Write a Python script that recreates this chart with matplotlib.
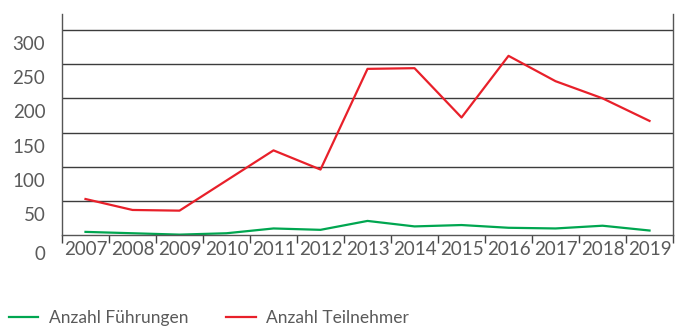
import matplotlib
matplotlib.use('Agg')
import matplotlib.pyplot as plt
import matplotlib.transforms as mtransforms

plt.rcParams['font.family'] = ['Lato', 'DejaVu Sans']

years = ['2007', '2008', '2009', '2010', '2011', '2012', '2013',
         '2014', '2015', '2016', '2017', '2018', '2019']
fuehrungen = [5, 3, 1, 3, 10, 8, 21, 13, 15, 11, 10, 14, 7]
teilnehmer = [53, 37, 36, 80, 124, 96, 243, 244, 172, 262, 225, 200, 167]
y_ticks = [0, 50, 100, 150, 200, 250, 300]

text_col = '#5a5a5a'
fs = 13.5
fig = plt.figure(figsize=(6.76, 3.27), dpi=100)
ax = fig.add_axes([0.0917, 0.2804, 0.9039, 0.6766])

x = list(range(len(years)))
ax.plot(x, fuehrungen, color='#00a650', lw=1.6, label='Anzahl Führungen')
ax.plot(x, teilnehmer, color='#e8202a', lw=1.6, label='Anzahl Teilnehmer')

ax.set_xlim(-0.5, len(years) - 0.5)
ax.set_ylim(0, 323)

# horizontal rules
for v in y_ticks[1:]:
    ax.axhline(v, color='#3c3c3c', lw=1.0, zorder=0)

ax.spines['top'].set_visible(False)
for s in ['left', 'right', 'bottom']:
    ax.spines[s].set_color('#555555')
    ax.spines[s].set_linewidth(1.0)

# year labels centred, tick marks on the boundaries
ax.set_xticks([i - 0.5 for i in range(len(years) + 1)])
ax.set_xticklabels([])
ax.set_xticks(x, minor=True)
ax.set_xticklabels(years, minor=True)
ax.tick_params(axis='x', which='major', length=6, width=1.0, color='#444444')
ax.tick_params(axis='x', which='minor', length=0, pad=4, labelsize=fs, labelcolor=text_col)

ax.set_yticks(y_ticks)
ax.set_yticklabels([str(v) for v in y_ticks])
ax.tick_params(axis='y', length=0, pad=12, labelsize=fs, labelcolor=text_col)
for v, lab in zip(y_ticks, ax.get_yticklabels()):
    dy = -18 if v == 0 else -13
    lab.set_transform(lab.get_transform() +
                      mtransforms.ScaledTranslation(0, dy / 100, fig.dpi_scale_trans))

fig.legend(loc='lower left', bbox_to_anchor=(-0.010, -0.045), ncol=2, frameon=False,
           fontsize=12.5, handlelength=1.7, handletextpad=0.6, columnspacing=2.2,
           labelcolor=text_col)

fig.savefig('out.png', dpi=100)
